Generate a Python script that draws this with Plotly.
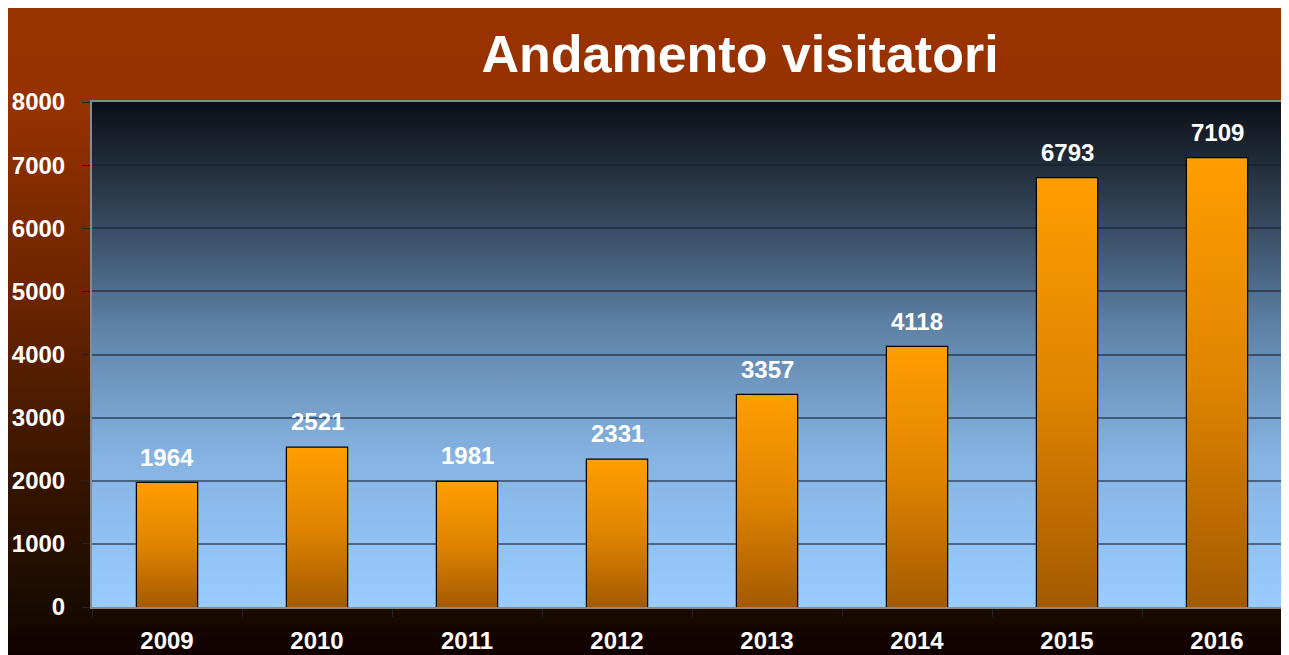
import base64
import plotly.graph_objects as go

# ---- data ----
years = ["2009", "2010", "2011", "2012", "2013", "2014", "2015", "2016"]
visitors = [1964, 2521, 1981, 2331, 3357, 4118, 6793, 7109]
y_ticks = [0, 1000, 2000, 3000, 4000, 5000, 6000, 7000, 8000]
title_text = "Andamento visitatori"

OFF = 8                      # page body margin
W, H = 1289 - 2 * OFF, 655 - OFF
L, T, B = 92 - OFF, 102 - OFF, 655 - 607
PW, PH = W - L, H - T - B
BAR_W = 0.4
FONT = "Liberation Sans, Arial, Helvetica, sans-serif"


def grad_uri(stops):
    s = "".join(f'<stop offset="{o}" stop-color="{c}"/>' for o, c in stops)
    svg = ('<svg xmlns="http://www.w3.org/2000/svg" width="100" height="100" preserveAspectRatio="none">'
           '<defs><linearGradient id="g" x1="0" y1="0" x2="0" y2="1">' + s +
           '</linearGradient></defs><rect x="0" y="0" width="100" height="100" fill="url(#g)"/></svg>')
    return "data:image/svg+xml;base64," + base64.b64encode(svg.encode()).decode()


paper_grad = grad_uri([(0, "#993300"), (0.15, "#963200"), (0.45, "#6a2400"),
                       (0.75, "#331300"), (0.92, "#1a0c00"), (1, "#100000")])
plot_grad = grad_uri([(0, "#0b0f16"), (0.2, "#2f3f52"), (0.45, "#5f83a8"),
                      (0.7, "#85b3e2"), (1, "#99ccff")])

idx = list(range(len(years)))
fig = go.Figure()

# gradient fill of each bar (derived from the data values)
for i, v in zip(idx, visitors):
    fig.add_trace(go.Scatter(
        x=[i - BAR_W / 2, i - BAR_W / 2, i + BAR_W / 2, i + BAR_W / 2, i - BAR_W / 2],
        y=[0, v, v, 0, 0], fill="toself", mode="lines",
        line=dict(width=0, color="rgba(0,0,0,0)"),
        fillgradient=dict(type="vertical", colorscale=[[0, "#a35a00"], [0.5, "#e08400"], [1, "#ff9e00"]]),
        hoverinfo="skip", showlegend=False))

# the bars themselves (outline)
fig.add_trace(go.Bar(x=idx, y=visitors, width=BAR_W,
                     marker=dict(color="rgba(0,0,0,0)", line=dict(color="#000000", width=2.5)),
                     hoverinfo="skip", showlegend=False))

# value labels
for i, v in zip(idx, visitors):
    fig.add_annotation(x=i, y=v, text=str(v), showarrow=False, yanchor="middle", yshift=26,
                       font=dict(family=FONT, size=24, color="white", weight="bold"))

fig.update_layout(
    width=W, height=H,
    margin=dict(l=L, r=0, t=T, b=B, pad=0),
    paper_bgcolor="white",
    plot_bgcolor="rgba(0,0,0,0)",
    showlegend=False,
    title=dict(text=title_text, x=(740 - OFF) / W, xref="container", xanchor="center",
               y=1 - (54 - OFF) / H, yref="container", yanchor="middle",
               font=dict(family=FONT, size=52, color="white", weight="bold")),
    images=[
        dict(source=paper_grad, xref="paper", yref="paper", x=-L / PW, y=(H - B) / PH,
             sizex=W / PW, sizey=H / PH, sizing="stretch", xanchor="left", yanchor="top",
             layer="below"),
        dict(source=plot_grad, xref="paper", yref="paper", x=0, y=1, sizex=1, sizey=1,
             sizing="stretch", xanchor="left", yanchor="top", layer="below"),
    ],
    xaxis=dict(range=[-0.5, -0.5 + PW / 150], tickmode="array", tickvals=idx, ticktext=years,
               ticks="", showgrid=False, zeroline=False,
               showline=True, linecolor="#8a8a8a", linewidth=2, mirror=True,
               ticklabelstandoff=11,
               tickfont=dict(family=FONT, size=24, color="white", weight="bold"),
               minor=dict(tickmode="array", tickvals=[k - 0.5 for k in range(len(years) + 1)],
                          ticks="outside", ticklen=8, tickcolor="#222222", tickwidth=1, showgrid=False)),
    yaxis=dict(range=[0, 8000], tickmode="array", tickvals=y_ticks,
               ticks="outside", ticklen=8, tickcolor="#222222", tickwidth=1,
               showgrid=True, gridcolor="rgba(20,30,45,0.55)", gridwidth=1.5,
               zeroline=False, showline=True, linecolor="#8a8a8a", linewidth=2,
               ticklabelstandoff=12,
               tickfont=dict(family=FONT, size=24, color="white", weight="bold")),
)

fig.write_html("out.html")
